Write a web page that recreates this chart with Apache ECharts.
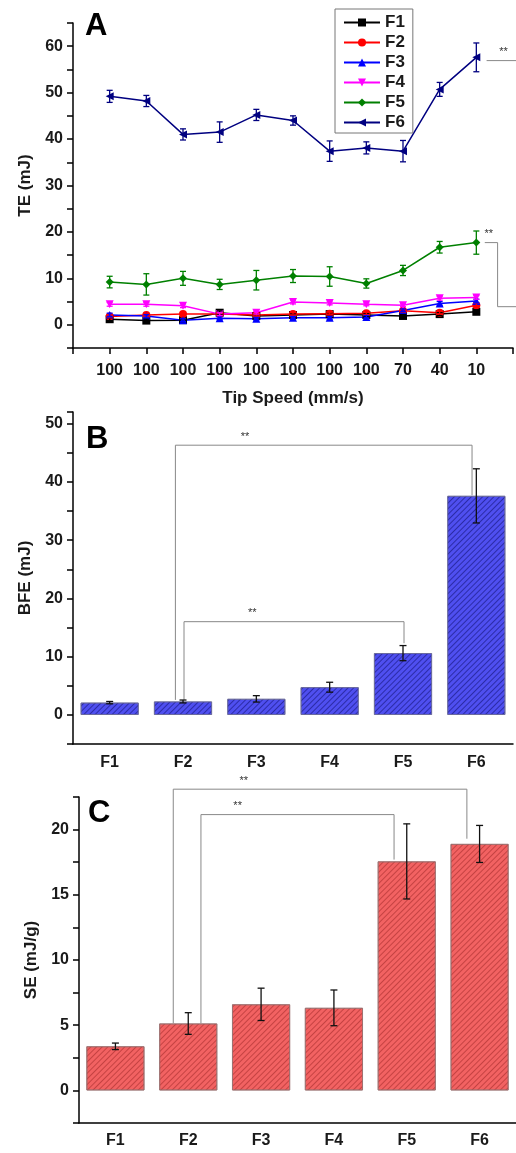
<!DOCTYPE html>
<html>
<head>
<meta charset="utf-8">
<script src="https://cdn.jsdelivr.net/npm/echarts@6/dist/echarts.min.js"></script>
<style>
  html, body { margin: 0; padding: 0; background: #fff; }
  #chart { width: 516px; height: 1153px; }
</style>
</head>
<body>
<div id="chart"></div>
<script>
// panel A: total energy vs tip speed
const speeds = ["100", "100", "100", "100", "100", "100", "100", "100", "70", "40", "10"];
const f1 = [1.2, 0.9, 1.0, 2.6, 1.9, 2.1, 2.3, 2.1, 1.9, 2.3, 2.8];
const f1Err = [0.3, 0.3, 0.3, 0.4, 0.3, 0.3, 0.3, 0.3, 0.3, 0.3, 0.4];
const f2 = [1.8, 2.1, 2.3, 2.3, 2.1, 2.3, 2.4, 2.5, 3.0, 2.6, 4.2];
const f2Err = [0.3, 0.3, 0.3, 0.3, 0.3, 0.3, 0.3, 0.3, 0.3, 0.3, 0.4];
const f3 = [2.1, 1.9, 1.0, 1.4, 1.3, 1.5, 1.5, 1.7, 3.1, 4.6, 5.1];
const f3Err = [0.4, 0.3, 0.3, 0.3, 0.3, 0.3, 0.3, 0.3, 0.3, 0.4, 0.4];
const f4 = [4.4, 4.4, 4.1, 2.3, 2.6, 4.9, 4.7, 4.4, 4.2, 5.7, 5.9];
const f4Err = [0.4, 0.4, 0.4, 0.3, 0.3, 0.4, 0.4, 0.3, 0.3, 0.4, 0.4];
const f5 = [9.2, 8.7, 10.0, 8.7, 9.6, 10.5, 10.4, 8.9, 11.7, 16.7, 17.7];
const f5Err = [1.25, 2.3, 1.5, 1.1, 2.1, 1.4, 2.1, 1.0, 1.1, 1.25, 2.5];
const f6 = [49.2, 48.2, 41.0, 41.5, 45.2, 44.0, 37.4, 38.1, 37.4, 50.7, 57.6];
const f6Err = [1.3, 1.2, 1.2, 2.2, 1.2, 1.0, 2.2, 1.3, 2.3, 1.5, 3.1];

// panel B / C: bar data
const forms = ["F1", "F2", "F3", "F4", "F5", "F6"];
const bfe = [2.1, 2.3, 2.75, 4.75, 10.6, 37.6];
const bfeErr = [0.2, 0.25, 0.55, 0.85, 1.3, 4.65];
const se = [3.38, 5.13, 6.6, 6.33, 17.56, 18.9];
const seErr = [0.25, 0.83, 1.24, 1.37, 2.88, 1.42];

// significance brackets: [fromIdx, toIdx, level, fromEnd, toEnd]
const bBrackets = [[1, 5, 46.3, 2.57, 37.7], [1, 4, 16.0, 2.57, 12.3]];
const cBrackets = [[1, 5, 23.1, 5.15, 19.3], [1, 4, 21.15, 5.15, 17.7]];
// panel A brackets as polylines (x, y in data units)
const aBrackets = [
  [[11.28, 56.9], [12.1, 56.9]],
  [[11.23, 17.7], [11.58, 17.7], [11.58, 3.9], [12.1, 3.9]]
];

const FONT = "Liberation Sans, Arial, sans-serif";
const chart = echarts.init(document.getElementById("chart"));

function errRender(color, cap) {
  return function (params, api) {
    const x = api.value(0);
    const p1 = api.coord([x, api.value(1)]);
    const p2 = api.coord([x, api.value(2)]);
    const st = { stroke: color, lineWidth: 1.3 };
    return {
      type: "group",
      children: [
        { type: "line", shape: { x1: p1[0], y1: p1[1], x2: p2[0], y2: p2[1] }, style: st },
        { type: "line", shape: { x1: p1[0] - cap, y1: p1[1], x2: p1[0] + cap, y2: p1[1] }, style: st },
        { type: "line", shape: { x1: p2[0] - cap, y1: p2[1], x2: p2[0] + cap, y2: p2[1] }, style: st }
      ]
    };
  };
}

function errData(vals, errs, offset) {
  return vals.map((v, i) => [i + offset, v - errs[i], v + errs[i]]);
}

// pixel nudges for bracket legs and star position (fraction along bracket)
function bracketRender(nudges) {
  return function (params, api) {
    const n = nudges[params.dataIndex];
    const a = api.coord([api.value(0), api.value(2)]);
    const b = api.coord([api.value(1), api.value(2)]);
    const aEnd = api.coord([api.value(0), api.value(3)]);
    const bEnd = api.coord([api.value(1), api.value(4)]);
    const xl = a[0] + n[0], xr = b[0] + n[1];
    const st = { stroke: "#888", lineWidth: 1 };
    return {
      type: "group",
      children: [
        { type: "polyline", shape: { points: [[xl, aEnd[1]], [xl, a[1]], [xr, b[1]], [xr, bEnd[1]]] }, style: Object.assign({ fill: null }, st) },
        { type: "text", x: xl + (xr - xl) * n[2], y: a[1] - 3, style: { text: "**", fill: "#333", font: "11px " + FONT, align: "center", verticalAlign: "bottom" } }
      ]
    };
  };
}

function lineSeries(name, data, color, symbol, rotate) {
  return {
    name: name, type: "line", xAxisIndex: 0, yAxisIndex: 0,
    data: data.map((v, i) => [i + 1, v]),
    symbol: symbol, symbolSize: 8, symbolRotate: rotate || 0,
    lineStyle: { color: color, width: 1.5 },
    itemStyle: { color: color },
    z: 3
  };
}

function errSeries(vals, errs, color, xi, yi, offset, cap) {
  return {
    type: "custom", xAxisIndex: xi, yAxisIndex: yi,
    renderItem: errRender(color, cap),
    data: errData(vals, errs, offset),
    encode: { x: 0, y: [1, 2] },
    z: 4, silent: true
  };
}

const axisLine = { onZero: false, lineStyle: { color: "#000", width: 1.5 } };
const tick = { inside: false, length: 6, lineStyle: { color: "#000", width: 1.5 } };
const lbl = { color: "#1a1a1a", fontFamily: FONT, fontWeight: "bold", fontSize: 16 };

const option = {
  animation: false,
  backgroundColor: "#fff",
  textStyle: { fontFamily: FONT },
  grid: [
    { left: 73, top: 23, width: 440, height: 325 },
    { left: 73, top: 412, width: 440, height: 332 },
    { left: 79, top: 797, width: 440, height: 326 }
  ],
  legend: {
    data: ["F1", "F2", "F3", "F4", "F5", "F6"],
    orient: "vertical",
    left: 335, top: 9,
    itemWidth: 36, itemHeight: 10, itemGap: 3,
    padding: [5, 8, 2, 8],
    borderColor: "#777", borderWidth: 1,
    textStyle: { fontFamily: FONT, fontWeight: "bold", fontSize: 17, color: "#1a1a1a", lineHeight: 16 }
  },
  xAxis: [
    {
      gridIndex: 0, type: "value", min: 0, max: 12, interval: 1,
      axisLine: axisLine, axisTick: tick, splitLine: { show: false },
      axisLabel: Object.assign({ margin: 15, formatter: (v) => speeds[v - 1] || "" }, lbl),
      name: "Tip Speed (mm/s)", nameLocation: "middle", nameGap: 42,
      nameTextStyle: { fontFamily: FONT, fontWeight: "bold", fontSize: 17, color: "#1a1a1a" }
    },
    {
      gridIndex: 1, type: "category", data: forms, position: "bottom",
      axisLine: axisLine, axisTick: tick,
      axisLabel: Object.assign({ margin: 11 }, lbl)
    },
    {
      gridIndex: 1, type: "category", data: forms, position: "bottom",
      axisLine: { show: false, onZero: false }, axisTick: Object.assign({ alignWithLabel: true }, tick),
      axisLabel: { show: false }
    },
    {
      gridIndex: 2, type: "category", data: forms, position: "bottom",
      axisLine: axisLine, axisTick: tick,
      axisLabel: Object.assign({ margin: 10 }, lbl)
    },
    {
      gridIndex: 2, type: "category", data: forms, position: "bottom",
      axisLine: { show: false, onZero: false }, axisTick: Object.assign({ alignWithLabel: true }, tick),
      axisLabel: { show: false }
    }
  ],
  yAxis: [
    {
      gridIndex: 0, type: "value", min: -5, max: 65, interval: 5,
      axisLine: Object.assign({ show: true }, axisLine), axisTick: Object.assign({ show: true }, tick),
      splitLine: { show: false },
      axisLabel: Object.assign({ margin: 10, formatter: (v) => (v % 10 === 0 ? v : "") }, lbl),
      name: "TE (mJ)", nameLocation: "middle", nameGap: 38,
      nameTextStyle: { fontFamily: FONT, fontWeight: "bold", fontSize: 17, color: "#1a1a1a" }
    },
    {
      gridIndex: 1, type: "value", min: -5, max: 52, interval: 5,
      axisLine: Object.assign({ show: true }, axisLine), axisTick: Object.assign({ show: true }, tick),
      splitLine: { show: false },
      axisLabel: Object.assign({ margin: 10, formatter: (v) => (v % 10 === 0 ? v : "") }, lbl),
      name: "BFE (mJ)", nameLocation: "middle", nameGap: 38,
      nameTextStyle: { fontFamily: FONT, fontWeight: "bold", fontSize: 17, color: "#1a1a1a" }
    },
    {
      gridIndex: 2, type: "value", min: -2.5, max: 22.5, interval: 2.5,
      axisLine: Object.assign({ show: true }, axisLine), axisTick: Object.assign({ show: true }, tick),
      splitLine: { show: false },
      axisLabel: Object.assign({ margin: 10, formatter: (v) => (v % 5 === 0 ? v : "") }, lbl),
      name: "SE (mJ/g)", nameLocation: "middle", nameGap: 37,
      nameTextStyle: { fontFamily: FONT, fontWeight: "bold", fontSize: 17, color: "#1a1a1a" }
    }
  ],
  graphic: [
    { type: "text", left: 85, top: 11, style: { text: "A", font: "bold 31px " + FONT, fill: "#000" } },
    { type: "text", left: 86, top: 424, style: { text: "B", font: "bold 31px " + FONT, fill: "#000" } },
    { type: "text", left: 88, top: 798, style: { text: "C", font: "bold 31px " + FONT, fill: "#000" } }
  ],
  series: [
    lineSeries("F1", f1, "#000000", "rect"),
    lineSeries("F2", f2, "#ff0000", "circle"),
    lineSeries("F3", f3, "#0000ff", "triangle"),
    lineSeries("F4", f4, "#ff00ff", "triangle", 180),
    lineSeries("F5", f5, "#008000", "diamond"),
    lineSeries("F6", f6, "#000080", "triangle", 90),
    errSeries(f1, f1Err, "#000000", 0, 0, 1, 3),
    errSeries(f2, f2Err, "#ff0000", 0, 0, 1, 3),
    errSeries(f3, f3Err, "#0000ff", 0, 0, 1, 3),
    errSeries(f4, f4Err, "#ff00ff", 0, 0, 1, 3),
    errSeries(f5, f5Err, "#008000", 0, 0, 1, 3),
    errSeries(f6, f6Err, "#000080", 0, 0, 1, 3),
    {
      type: "custom", xAxisIndex: 0, yAxisIndex: 0, silent: true, clip: false,
      data: aBrackets.map((pts, i) => [i]),
      renderItem: function (params, api) {
        const pts = aBrackets[params.dataIndex].map((p) => api.coord(p));
        const star = pts[0];
        return {
          type: "group",
          children: [
            { type: "polyline", shape: { points: pts }, style: { stroke: "#888", lineWidth: 1, fill: null } },
            { type: "text", x: star[0] + (params.dataIndex === 0 ? 17 : 4), y: star[1] - 3,
              style: { text: "**", fill: "#333", font: "11px " + FONT, align: "center", verticalAlign: "bottom" } }
          ]
        };
      }
    },
    {
      name: "BFE", type: "bar", xAxisIndex: 1, yAxisIndex: 1, data: bfe, barWidth: 58,
      itemStyle: {
        color: "#4f4ff0", borderColor: "#6a6a9a", borderWidth: 0.8,
        decal: { symbol: "rect", symbolSize: 1, color: "rgba(20,20,120,0.6)", dashArrayX: [1, 0], dashArrayY: [1, 3], rotation: -Math.PI / 4 }
      }
    },
    errSeries(bfe, bfeErr, "#111", 1, 1, 0, 3.5),
    {
      type: "custom", xAxisIndex: 1, yAxisIndex: 1, silent: true, clip: false,
      data: bBrackets, encode: { x: [0, 1], y: [2, 3, 4] },
      renderItem: bracketRender([[-7.6, -4.3, 0.235], [1, 1, 0.31]])
    },
    {
      name: "SE", type: "bar", xAxisIndex: 3, yAxisIndex: 2, data: se, barWidth: 58,
      itemStyle: {
        color: "#f26262", borderColor: "#9a7070", borderWidth: 0.8,
        decal: { symbol: "rect", symbolSize: 1, color: "rgba(160,40,40,0.55)", dashArrayX: [1, 0], dashArrayY: [1, 3], rotation: -Math.PI / 4 }
      }
    },
    errSeries(se, seErr, "#111", 3, 2, 0, 3.5),
    {
      type: "custom", xAxisIndex: 3, yAxisIndex: 2, silent: true, clip: false,
      data: cBrackets, encode: { x: [0, 1], y: [2, 3, 4] },
      renderItem: bracketRender([[-15, -12.7, 0.24], [12.7, -12.7, 0.19]])
    }
  ]
};

chart.setOption(option);
</script>
</body>
</html>
